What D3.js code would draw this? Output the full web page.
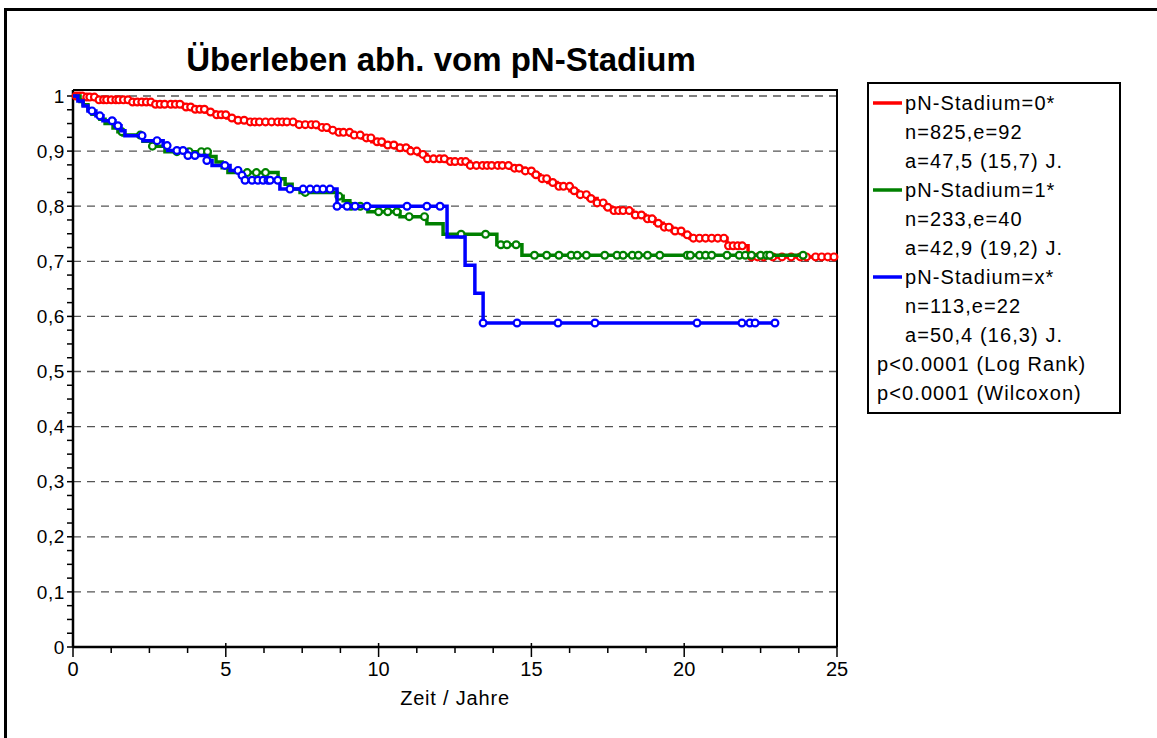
<!DOCTYPE html>
<html><head><meta charset="utf-8">
<script src="https://cdn.jsdelivr.net/npm/d3@7"></script>
<style>
html,body{margin:0;padding:0;background:#fff;}
text{font-family:"Liberation Sans",Arial,sans-serif;}
</style></head>
<body><svg id="chart" width="1157" height="738"></svg>
<script>
// ---------- data ----------
const title = "Überleben abh. vom pN-Stadium";
const xLabel = "Zeit / Jahre";
const xTickValues = [0, 5, 10, 15, 20, 25];
const yTickValues = [0, 0.1, 0.2, 0.3, 0.4, 0.5, 0.6, 0.7, 0.8, 0.9, 1];
const yTickLabels = ["0", "0,1", "0,2", "0,3", "0,4", "0,5", "0,6", "0,7", "0,8", "0,9", "1"];

const seriesNames = ["pN-Stadium=0*", "pN-Stadium=1*", "pN-Stadium=x*"];
const seriesColors = ["#ff0000", "#008000", "#0000ff"];
const seriesStats = [
  ["n=825,e=92", "a=47,5 (15,7) J."],
  ["n=233,e=40", "a=42,9 (19,2) J."],
  ["n=113,e=22", "a=50,4 (16,3) J."]
];
const pValues = ["p<0.0001 (Log Rank)", "p<0.0001 (Wilcoxon)"];

// step points: [time, survival after step]
const steps0 = [[0,1],[0.33,0.998],[0.79,0.993],[1.87,0.989],[2.62,0.985],[3.6,0.980],[4.0,0.976],[4.32,0.971],
  [4.65,0.966],[5.04,0.960],[5.37,0.956],[5.79,0.953],[7.33,0.948],[7.98,0.943],[8.31,0.938],[8.64,0.934],
  [9.06,0.929],[9.46,0.924],[9.78,0.917],[10.11,0.911],[10.54,0.906],[11.03,0.900],[11.29,0.894],[11.58,0.886],
  [12.24,0.881],[12.99,0.874],[14.3,0.869],[14.79,0.864],[15.05,0.857],[15.28,0.850],[15.54,0.843],[15.84,0.836],
  [16.26,0.828],[16.52,0.821],[16.85,0.814],[17.15,0.806],[17.41,0.798],[17.64,0.792],[18.32,0.784],[18.72,0.777],
  [19.04,0.769],[19.31,0.762],[19.6,0.755],[19.96,0.748],[20.19,0.742],[21.4,0.728],[22.09,0.708]];
const end0 = 25;
const censor0 = [0.1,0.2,0.3,0.45,0.55,0.7,0.85,1.0,1.1,1.25,1.4,1.5,1.65,1.8,1.95,2.1,2.25,2.4,2.55,2.7,2.85,3.0,
  3.2,3.35,3.5,3.7,3.85,4.0,4.15,4.3,4.5,4.7,4.85,5.0,5.2,5.4,5.6,5.8,5.95,6.1,6.3,6.5,6.7,6.85,7.0,7.2,7.4,7.6,
  7.8,7.95,8.15,8.3,8.5,8.7,8.85,9.05,9.2,9.4,9.6,9.75,9.95,10.1,10.3,10.5,10.7,10.9,11.05,11.25,11.45,11.6,11.8,
  12.0,12.15,12.35,12.5,12.7,12.85,13.0,13.2,13.4,13.55,13.7,13.9,14.05,14.25,14.45,14.6,14.8,15.0,15.15,15.35,
  15.5,15.7,15.9,16.05,16.25,16.4,16.6,16.8,16.95,17.15,17.35,17.5,17.7,17.85,18.0,18.2,18.4,18.6,18.8,18.95,
  19.15,19.35,19.5,19.7,19.9,20.1,20.3,20.5,20.7,20.9,21.1,21.3,21.45,21.6,21.75,21.9,22.2,22.4,22.6,22.9,23.2,
  23.5,23.8,24.0,24.3,24.5,24.7,24.9];

const steps1 = [[0,1],[0.23,0.99],[0.33,0.984],[0.49,0.975],[0.62,0.967],[0.88,0.958],[1.05,0.95],[1.31,0.942],
  [1.47,0.935],[1.64,0.929],[2.29,0.918],[2.59,0.909],[3.01,0.899],[4.48,0.89],[4.68,0.88],[4.88,0.87],[5.07,0.861],
  [6.71,0.85],[6.94,0.84],[7.17,0.831],[7.43,0.825],[8.64,0.818],[8.84,0.81],[9.06,0.80],[9.65,0.79],[10.7,0.781],
  [11.58,0.768],[12.11,0.749],[13.87,0.73],[14.69,0.711]];
const end1 = 23.89;
const censor1 = [1.6,2.2,2.6,3.4,3.8,4.2,4.4,5.7,6.0,6.3,7.6,8.7,9.1,9.4,10.0,10.3,10.6,11.0,11.5,12.7,13.5,14.0,
  14.2,14.5,15.1,15.5,15.9,16.3,16.5,16.8,17.4,17.8,18.0,18.3,18.5,18.8,19.2,20.1,20.2,20.5,20.7,20.9,21.4,21.8,
  22.0,22.2,22.5,22.7,22.8,23.89];

const stepsX = [[0,1],[0.16,0.991],[0.33,0.982],[0.49,0.973],[0.75,0.964],[0.98,0.955],[1.37,0.946],[1.57,0.937],
  [1.7,0.928],[2.29,0.919],[2.95,0.91],[3.1,0.901],[3.73,0.892],[4.38,0.883],[4.55,0.874],[5.14,0.865],[5.46,0.856],
  [5.56,0.847],[6.77,0.831],[8.64,0.80],[12.24,0.744],[12.83,0.693],[13.15,0.642],[13.42,0.588]];
const endX = 22.97;
const censorX = [0.62,0.88,1.28,1.47,2.26,2.75,3.08,3.4,3.6,3.76,3.99,4.38,4.97,5.4,5.53,5.63,5.86,6.05,6.22,6.38,
  6.45,6.7,7.1,7.53,7.76,7.98,8.18,8.41,8.64,8.97,9.23,9.62,10.93,11.58,12.01,13.42,14.53,15.87,17.08,20.42,21.89,
  22.15,22.32,22.97];

const allSteps = [steps0, steps1, stepsX];
const allEnds = [end0, end1, endX];
const allCensor = [censor0, censor1, censorX];

// ---------- layout ----------
const svg = d3.select("#chart");
const x = d3.scaleLinear().domain([0, 25]).range([73, 837]);
const y = d3.scaleLinear().domain([0, 1]).range([647, 96]);
const plotTop = 90;

// outer frame
svg.append("path").attr("d", "M5.5,745 V9.5 H1165").attr("fill", "none").attr("stroke", "#000").attr("stroke-width", 3);

// title
svg.append("text").attr("x", 441).attr("y", 71).attr("text-anchor", "middle")
  .attr("font-size", 33).attr("font-weight", "bold").text(title);

// gridlines
svg.append("g").selectAll("line").data(yTickValues.filter(v => v > 0)).join("line")
  .attr("x1", x(0)).attr("x2", x(25)).attr("y1", d => y(d)).attr("y2", d => y(d))
  .attr("stroke", "#555").attr("stroke-width", 1.3).attr("stroke-dasharray", "8,6");

// plot frame top / right
svg.append("path").attr("d", `M${x(0)},${plotTop} H${x(25)} V${y(0)}`).attr("fill", "none")
  .attr("stroke", "#000").attr("stroke-width", 2);

// y axis
const yMinor = d3.range(0, 1.0001, 0.025);
svg.append("g").selectAll("line").data(yMinor).join("line")
  .attr("x1", x(0) - 6).attr("x2", x(0)).attr("y1", d => y(d)).attr("y2", d => y(d))
  .attr("stroke", "#000").attr("stroke-width", 1.5);
svg.append("line").attr("x1", x(0)).attr("x2", x(0)).attr("y1", plotTop).attr("y2", y(0))
  .attr("stroke", "#000").attr("stroke-width", 2.5);
svg.append("g").selectAll("text").data(yTickValues).join("text")
  .attr("x", x(0) - 8).attr("y", d => y(d)).attr("dy", "0.35em").attr("text-anchor", "end")
  .attr("font-size", 19).attr("letter-spacing", 0.6).text((d, i) => yTickLabels[i]);

// x axis
const xMinor = d3.range(0, 25.001, 1.25).filter(v => Math.abs(v % 5) > 1e-6);
svg.append("g").selectAll("line").data(xMinor).join("line")
  .attr("x1", d => x(d)).attr("x2", d => x(d)).attr("y1", y(0)).attr("y2", y(0) + 6)
  .attr("stroke", "#000").attr("stroke-width", 1.5);
svg.append("g").selectAll("line").data(xTickValues).join("line")
  .attr("x1", d => x(d)).attr("x2", d => x(d)).attr("y1", y(0) - 4).attr("y2", y(0) + 10)
  .attr("stroke", "#000").attr("stroke-width", 1.5);
svg.append("line").attr("x1", x(0)).attr("x2", x(25)).attr("y1", y(0)).attr("y2", y(0))
  .attr("stroke", "#000").attr("stroke-width", 2.5);
svg.append("g").selectAll("text").data(xTickValues).join("text")
  .attr("x", d => x(d)).attr("y", y(0) + 29).attr("text-anchor", "middle")
  .attr("font-size", 20).text(d => d);
svg.append("text").attr("x", 455).attr("y", 705).attr("text-anchor", "middle")
  .attr("font-size", 20).attr("letter-spacing", 0.8).text(xLabel);

// curves
function survAt(steps, t) {
  let s = 1;
  for (const [tt, v] of steps) { if (tt <= t + 1e-9) s = v; }
  return s;
}
const line = d3.line().x(d => x(d[0])).y(d => y(d[1])).curve(d3.curveStepAfter);
allSteps.forEach((steps, i) => {
  const pts = steps.concat([[allEnds[i], steps[steps.length - 1][1]]]);
  const g = svg.append("g");
  g.append("path").attr("d", line(pts)).attr("fill", "none")
    .attr("stroke", seriesColors[i]).attr("stroke-width", 3.5);
  g.selectAll("circle").data(allCensor[i]).join("circle")
    .attr("cx", d => x(d)).attr("cy", d => y(survAt(steps, d))).attr("r", 3.4)
    .attr("fill", "#fff").attr("stroke", seriesColors[i]).attr("stroke-width", 2.2);
});

// legend
const lg = svg.append("g");
lg.append("rect").attr("x", 868).attr("y", 83).attr("width", 252).attr("height", 330)
  .attr("fill", "#fff").attr("stroke", "#000").attr("stroke-width", 2);
const rowH = 29, row0 = 110;
let r = 0;
seriesNames.forEach((name, i) => {
  const by = row0 + r * rowH;
  lg.append("line").attr("x1", 873).attr("x2", 902).attr("y1", by - 7).attr("y2", by - 7)
    .attr("stroke", seriesColors[i]).attr("stroke-width", 3.5);
  lg.append("text").attr("x", 905).attr("y", by).attr("font-size", 20).attr("letter-spacing", 1.1).text(name);
  r++;
  seriesStats[i].forEach(s => {
    lg.append("text").attr("x", 905).attr("y", row0 + r * rowH).attr("font-size", 20)
      .attr("letter-spacing", 1.1).text(s);
    r++;
  });
});
pValues.forEach(p => {
  lg.append("text").attr("x", 877).attr("y", row0 + r * rowH).attr("font-size", 20)
    .attr("letter-spacing", 1.1).text(p);
  r++;
});
</script></body></html>
